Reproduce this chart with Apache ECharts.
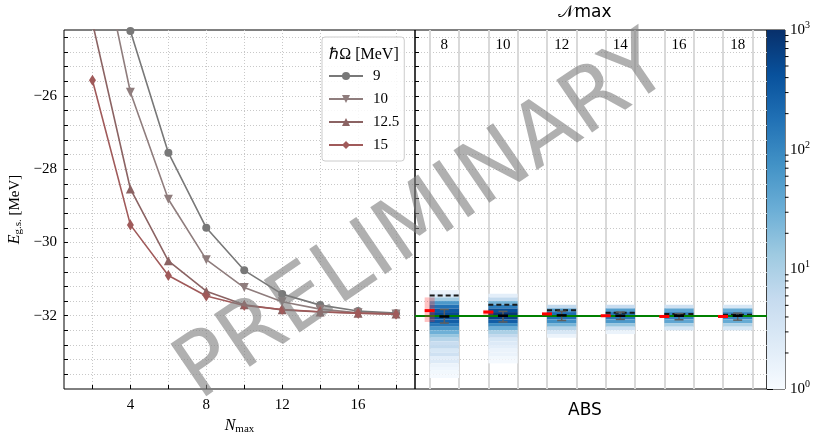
<!DOCTYPE html>
<html>
<head>
<meta charset="utf-8">
<script src="https://cdn.jsdelivr.net/npm/echarts@6/dist/echarts.min.js"></script>
<style>
  html, body { margin: 0; padding: 0; background: #fff; }
  #chart { width: 818px; height: 433px; }
</style>
</head>
<body>
<div id="chart"></div>
<script>
// ---- left panel: ground-state energy vs N_max for several oscillator frequencies ----
const nmaxValues = [2, 4, 6, 8, 10, 12, 14, 16, 18];
const hwLabels = ['9', '10', '12.5', '15'];
const egs9   = [-18.0, -24.23, -27.55, -29.60, -30.76, -31.41, -31.71, -31.87, -31.93];
const egs10  = [-21.0, -25.90, -28.82, -30.47, -31.23, -31.62, -31.82, -31.92, -31.95];
const egs125 = [-24.0, -28.54, -30.50, -31.33, -31.70, -31.84, -31.90, -31.93, -31.95];
const egs15  = [-25.57, -29.52, -30.90, -31.46, -31.72, -31.83, -31.89, -31.93, -31.96];

// axis ticks
const energyMinorTicks = [-33.6, -33.2, -32.8, -32.4, -32.0, -31.6, -31.2, -30.8, -30.4, -30.0,
  -29.6, -29.2, -28.8, -28.4, -28.0, -27.6, -27.2, -26.8, -26.4, -26.0, -25.6, -25.2, -24.8, -24.4];
const energyTickLabels = [-32, -30, -28, -26];
const nmaxTicks = [2, 4, 6, 8, 10, 12, 14, 16, 18];
const nmaxTickLabels = [4, 8, 12, 16];

// ---- right panel: ABS extrapolation histograms per model-space size ----
const nmaxAbs = [8, 10, 12, 14, 16, 18];
const absSeparators = [7.5, 8.5, 9.5, 10.5, 11.5, 12.5, 13.5, 14.5, 15.5, 16.5, 17.5, 18.5];
const histBinWidth = 0.1;
const histTop = [-31.3, -31.4, -31.7, -31.7, -31.7, -31.7];
const histCounts8  = [1.5, 3, 12, 60, 180, 350, 500, 450, 300, 150, 60, 30, 15, 8, 5, 6, 3, 4, 2, 2.5, 1.5, 1.3, 1.2, 1.1];
const histCounts10 = [2, 6, 25, 120, 450, 800, 650, 300, 90, 30, 10, 6, 3, 2.5, 2, 1.5, 1.5, 1.2, 1.1];
const histCounts12 = [6, 60, 200, 180, 80, 25, 8, 3, 1.5];
const histCounts14 = [5, 50, 160, 150, 60, 15, 4, 1.5];
const histCounts16 = [4, 40, 110, 100, 40, 10, 3];
const histCounts18 = [3, 35, 100, 95, 35, 9, 3];
const histCounts = [histCounts8, histCounts10, histCounts12, histCounts14, histCounts16, histCounts18];

const upperBound  = [-31.45, -31.70, -31.85, -31.92, -31.95, -31.97];   // dashed lines
const medianAbs   = [-32.02, -32.00, -31.99, -32.00, -32.00, -32.00];
const errLoAbs    = [-32.20, -32.17, -32.13, -32.10, -32.11, -32.12];
const errHiAbs    = [-31.83, -31.88, -31.88, -31.90, -31.94, -31.93];
const extrapValue = [-31.86, -31.90, -31.95, -32.00, -32.02, -32.02];   // red markers
const extrapLo    = [-32.17, -31.99, -31.98, -32.02, -32.04, -32.04];
const extrapHi    = [-31.50, -31.84, -31.92, -31.98, -32.00, -32.00];
const referenceEnergy = -32.0;

// colour bar
const colorMin = 1, colorMax = 1000;
const colorbarMinorTicks = [2, 3, 4, 5, 6, 7, 8, 9, 20, 30, 40, 50, 60, 70, 80, 90, 200, 300, 400, 500, 600, 700, 800, 900];
const blues = ['#f7fbff', '#deebf7', '#c6dbef', '#9ecae1', '#6baed6', '#4292c6', '#2171b5', '#08519c', '#08306b'];

const serif = 'Liberation Serif';
const lineColors = ['#787878', '#8f7d7d', '#8b6363', '#a05a5a'];
const symbols = ['circle', 'triangle', 'triangle', 'diamond'];
const symbolRotates = [0, 180, 0, 0];
const symbolSizes = [8, 9, 9, [7, 11]];

const chart = echarts.init(document.getElementById('chart'), null, { renderer: 'canvas' });

const energySeries = [egs9, egs10, egs125, egs15].map((vals, k) => ({
  name: hwLabels[k],
  type: 'line',
  xAxisIndex: 0, yAxisIndex: 0,
  data: nmaxValues.map((n, i) => [n, vals[i]]),
  symbol: symbols[k],
  symbolRotate: symbolRotates[k],
  symbolSize: symbolSizes[k],
  color: lineColors[k],
  lineStyle: { width: 1.6, color: lineColors[k] },
  itemStyle: { color: lineColors[k] },
  z: 3 + k
}));

// histogram cells: [N, top, bottom, log10(count)]
const cells = [];
nmaxAbs.forEach((n, k) => {
  histCounts[k].forEach((c, j) => {
    const top = histTop[k] - j * histBinWidth;
    cells.push([n, top, top - histBinWidth, Math.log10(c)]);
  });
});

const heatSeries = {
  type: 'custom',
  coordinateSystem: 'cartesian2d',
  xAxisIndex: 1, yAxisIndex: 1,
  data: cells,
  encode: { x: 0, y: [1, 2] },
  z: 2,
  renderItem: (params, api) => {
    const p0 = api.coord([api.value(0) - 0.5, api.value(1)]);
    const p1 = api.coord([api.value(0) + 0.5, api.value(2)]);
    return {
      type: 'rect',
      shape: { x: p0[0], y: p0[1], width: p1[0] - p0[0], height: p1[1] - p0[1] },
      style: { fill: api.visual('color') }
    };
  }
};

const refSeries = {
  type: 'line',
  xAxisIndex: 1, yAxisIndex: 1,
  data: [],
  z: 3,
  markLine: {
    silent: true, symbol: 'none', label: { show: false },
    lineStyle: { color: '#008000', width: 2, type: 'solid' },
    data: [{ yAxis: referenceEnergy }]
  }
};

const boundSeries = {
  type: 'custom',
  coordinateSystem: 'cartesian2d',
  xAxisIndex: 1, yAxisIndex: 1,
  data: nmaxAbs.map((n, i) => [n, upperBound[i]]),
  z: 4,
  renderItem: (params, api) => {
    const a = api.coord([api.value(0) - 0.5, api.value(1)]);
    const b = api.coord([api.value(0) + 0.5, api.value(1)]);
    return {
      type: 'line',
      shape: { x1: a[0], y1: a[1], x2: b[0], y2: b[1] },
      style: { stroke: '#1a1a1a', lineWidth: 2, lineDash: [5, 3] }
    };
  }
};

const errSeries = {
  type: 'custom',
  coordinateSystem: 'cartesian2d',
  xAxisIndex: 1, yAxisIndex: 1,
  data: nmaxAbs.map((n, i) => [n, errLoAbs[i], errHiAbs[i], medianAbs[i]]),
  z: 5,
  renderItem: (params, api) => {
    const lo = api.coord([api.value(0), api.value(1)]);
    const hi = api.coord([api.value(0), api.value(2)]);
    const md = api.coord([api.value(0), api.value(3)]);
    const cap = 4.5, half = 5;
    const st = { stroke: '#5e5e5e', lineWidth: 1.5 };
    return {
      type: 'group',
      children: [
        { type: 'line', shape: { x1: lo[0], y1: lo[1], x2: hi[0], y2: hi[1] }, style: st },
        { type: 'line', shape: { x1: lo[0] - cap, y1: lo[1], x2: lo[0] + cap, y2: lo[1] }, style: st },
        { type: 'line', shape: { x1: hi[0] - cap, y1: hi[1], x2: hi[0] + cap, y2: hi[1] }, style: st },
        { type: 'line', shape: { x1: md[0] - half, y1: md[1], x2: md[0] + half, y2: md[1] },
          style: { stroke: '#000', lineWidth: 2.5 } }
      ]
    };
  }
};

const extrapSeries = {
  type: 'custom',
  coordinateSystem: 'cartesian2d',
  xAxisIndex: 1, yAxisIndex: 1,
  data: nmaxAbs.map((n, i) => [n - 0.5, extrapValue[i], extrapLo[i], extrapHi[i]]),
  z: 6,
  renderItem: (params, api) => {
    const c = api.coord([api.value(0), api.value(1)]);
    const lo = api.coord([api.value(0), api.value(2)]);
    const hi = api.coord([api.value(0), api.value(3)]);
    const half = 5;
    return {
      type: 'group',
      children: [
        { type: 'rect', shape: { x: c[0] - half, y: hi[1], width: 2 * half, height: lo[1] - hi[1] },
          style: { fill: 'rgba(255,40,40,0.28)' } },
        { type: 'line', shape: { x1: c[0] - half, y1: c[1], x2: c[0] + half, y2: c[1] },
          style: { stroke: '#ff0000', lineWidth: 3 } }
      ]
    };
  }
};

// colour bar
const colorbarSeries = {
  type: 'custom',
  coordinateSystem: 'cartesian2d',
  xAxisIndex: 2, yAxisIndex: 2,
  data: [[0, colorMin, 1, colorMax]],
  z: 2,
  renderItem: (params, api) => {
    const p0 = api.coord([api.value(0), api.value(3)]);
    const p1 = api.coord([api.value(2), api.value(1)]);
    return {
      type: 'rect',
      shape: { x: p0[0], y: p0[1], width: p1[0] - p0[0], height: p1[1] - p0[1] },
      style: {
        fill: new echarts.graphic.LinearGradient(0, 1, 0, 0,
          blues.map((c, i) => ({ offset: i / (blues.length - 1), color: c })))
      }
    };
  }
};

const colorbarMinorSeries = {
  type: 'custom',
  coordinateSystem: 'cartesian2d',
  xAxisIndex: 2, yAxisIndex: 2,
  data: colorbarMinorTicks.map(v => [1, v]),
  z: 5,
  clip: false,
  renderItem: (params, api) => {
    const p = api.coord([api.value(0), api.value(1)]);
    return {
      type: 'line',
      shape: { x1: p[0], y1: p[1], x2: p[0] + 3.5, y2: p[1] },
      style: { stroke: '#000', lineWidth: 1 }
    };
  }
};

const gridTop = 30, gridHeight = 359;
const dotted = { color: '#c8c8c8', width: 1, type: [1, 2] };

const energyAxisBase = {
  type: 'value', min: -34, max: -24.2,
  axisLine: { show: false },
  axisTick: { inside: true, length: 4, customValues: energyMinorTicks, lineStyle: { color: '#000' } },
  splitLine: { show: true, lineStyle: dotted }
};

const gridBase = { top: gridTop, height: gridHeight, show: true, borderColor: '#000', borderWidth: 1,
  containLabel: false, outerBoundsMode: 'none' };

chart.setOption({
  animation: false,
  backgroundColor: '#fff',
  grid: [
    Object.assign({ left: 64, width: 351 }, gridBase),
    Object.assign({ left: 415, width: 352 }, gridBase),
    Object.assign({ left: 767, width: 18 }, gridBase)
  ],
  xAxis: [
    {
      gridIndex: 0, type: 'value', min: 0.5, max: 19,
      axisLine: { show: false },
      axisTick: { inside: true, length: 4, customValues: nmaxTicks, lineStyle: { color: '#000' } },
      axisLabel: { customValues: nmaxTickLabels, fontFamily: serif, fontSize: 15, color: '#000', margin: 9 },
      splitLine: { show: true, lineStyle: dotted },
      name: '{i|N}{s|max}', nameLocation: 'middle', nameGap: 22,
      nameTextStyle: {
        rich: {
          i: { fontFamily: serif, fontStyle: 'italic', fontSize: 16, color: '#000' },
          s: { fontFamily: serif, fontSize: 11, color: '#000', padding: [7, 0, 0, 0] }
        }
      }
    },
    {
      gridIndex: 1, type: 'value', min: 7, max: 19, position: 'top',
      axisLine: { show: false },
      axisTick: { show: false, customValues: absSeparators },
      axisLabel: { inside: true, customValues: nmaxAbs, fontFamily: serif, fontSize: 15, color: '#000', margin: 8 },
      splitLine: { show: true, lineStyle: { color: '#d9d9d9', width: 2, type: 'solid' } }
    },
    { gridIndex: 2, type: 'value', min: 0, max: 1, show: false }
  ],
  yAxis: [
    Object.assign({}, energyAxisBase, {
      gridIndex: 0,
      axisLabel: {
        customValues: energyTickLabels,
        formatter: v => '\u2212' + Math.abs(v),
        fontFamily: serif, fontSize: 15, color: '#000', margin: 7
      },
      name: '{i|E}{s|g.s.} [MeV]', nameLocation: 'middle', nameGap: 40,
      nameTextStyle: {
        rich: {
          i: { fontFamily: serif, fontStyle: 'italic', fontSize: 16, color: '#000' },
          s: { fontFamily: serif, fontSize: 11, color: '#000', padding: [7, 0, 0, 0] }
        },
        fontFamily: serif, fontSize: 15, color: '#000'
      }
    }),
    Object.assign({}, energyAxisBase, {
      gridIndex: 1,
      axisLabel: { show: false }
    }),
    {
      gridIndex: 2, type: 'log', logBase: 10, min: colorMin, max: colorMax, position: 'right',
      axisLine: { show: false },
      axisTick: { show: true, inside: false, length: 6, lineStyle: { color: '#000' } },
      splitLine: { show: false },
      axisLabel: {
        margin: 5,
        formatter: v => '{b|10}{p|' + Math.round(Math.log10(v)) + '}',
        rich: {
          b: { fontFamily: serif, fontSize: 15, color: '#000' },
          p: { fontFamily: serif, fontSize: 10, color: '#000', padding: [0, 0, 9, 0] }
        }
      }
    }
  ],
  visualMap: {
    type: 'continuous', show: false, seriesIndex: 4, dimension: 3,
    min: 0, max: Math.log10(colorMax), inRange: { color: blues }
  },
  legend: {
    data: hwLabels,
    orient: 'vertical',
    left: 322, top: 37,
    itemWidth: 34, itemHeight: 10, itemGap: 7,
    padding: [31, 5, 8, 6],
    backgroundColor: 'rgba(255,255,255,0.85)',
    borderColor: '#cccccc', borderWidth: 1, borderRadius: 3,
    textStyle: { fontFamily: serif, fontSize: 15, lineHeight: 16, color: '#000', padding: [0, 0, 0, 5] },
    z: 20
  },
  graphic: [
    { type: 'text', x: 364, y: 55, z: 30,
      style: { text: '\u210FΩ [MeV]', font: '16px "Liberation Serif"', fill: '#000', textAlign: 'center', textVerticalAlign: 'middle' } },
    { type: 'text', x: 585, y: 13, z: 30,
      style: { text: '𝒩max', font: '17px "DejaVu Sans"', fill: '#000', textAlign: 'center', textVerticalAlign: 'middle' } },
    { type: 'text', x: 585, y: 411, z: 30,
      style: { text: 'ABS', font: '17px "DejaVu Sans"', fill: '#000', textAlign: 'center', textVerticalAlign: 'middle' } },
    { type: 'text', x: 424, y: 220, rotation: 0.60, z: 50,
      style: { text: 'PRELIMINARY', font: '87px "DejaVu Sans"', fill: 'rgba(128,128,128,0.62)', textAlign: 'center', textVerticalAlign: 'middle' } }
  ],
  series: energySeries.concat([heatSeries, refSeries, boundSeries, errSeries, extrapSeries, colorbarSeries, colorbarMinorSeries])
});
</script>
</body>
</html>
